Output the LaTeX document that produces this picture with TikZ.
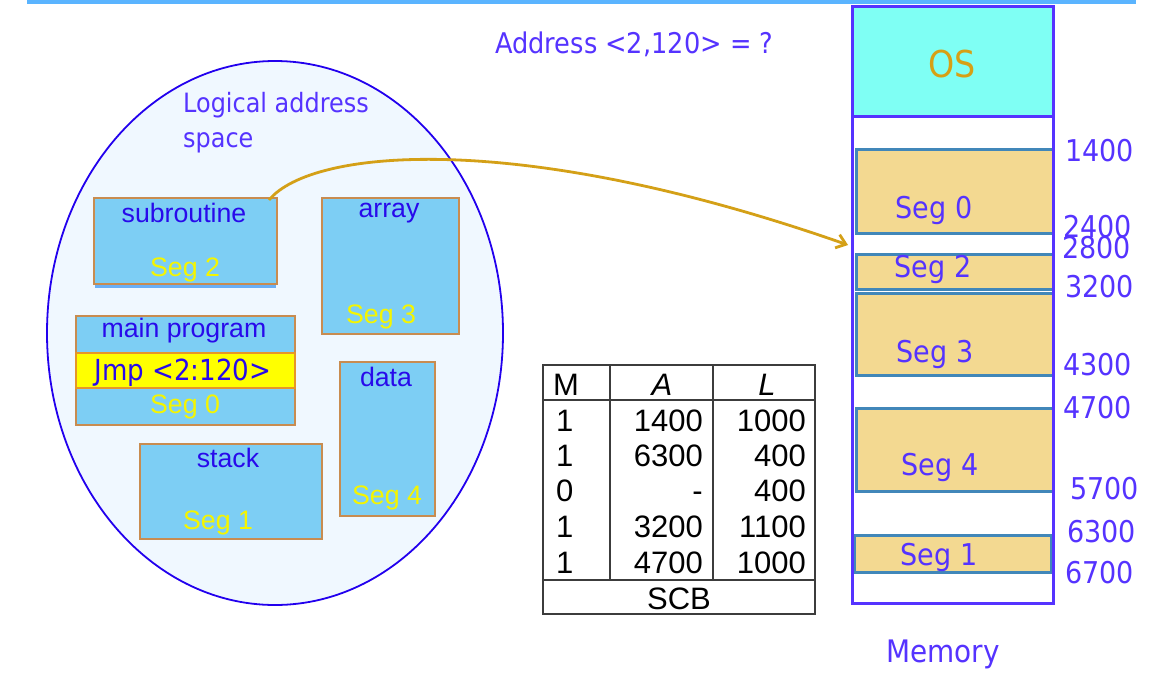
\documentclass[tikz,border=0pt]{standalone}
\usepackage{fontspec}
\setmainfont{Liberation Sans}
\newfontfamily\tah[FakeStretch=0.9]{DejaVu Sans}
\usetikzlibrary{arrows.meta,shapes.geometric}
\definecolor{topbar}{RGB}{90,180,255}
\definecolor{ellfill}{RGB}{240,248,255}
\definecolor{elldraw}{RGB}{34,0,238}
\definecolor{boxfill}{RGB}{125,206,244}
\definecolor{boxdraw}{RGB}{200,140,80}
\definecolor{jmpfill}{RGB}{255,255,0}
\definecolor{jmpdraw}{RGB}{230,150,40}
\definecolor{labblue}{RGB}{40,10,235}
\definecolor{tahblue}{RGB}{85,51,255}
\definecolor{segyel}{RGB}{245,245,0}
\definecolor{osfill}{RGB}{127,255,244}
\definecolor{osorange}{RGB}{215,160,20}
\definecolor{segfill}{RGB}{243,217,145}
\definecolor{segdraw}{RGB}{65,135,185}
\definecolor{arrowc}{RGB}{212,160,23}
\definecolor{tabline}{RGB}{60,60,60}
\tikzset{
  lbox/.style={draw=boxdraw, fill=boxfill, line width=1.5pt, inner sep=0pt, anchor=north west},
  blab/.style={text=labblue, font=\fontsize{26.7}{30}\selectfont, anchor=base, inner sep=0pt},
  ylab/.style={text=segyel, font=\fontsize{26.7}{30}\selectfont, anchor=base, inner sep=0pt},
  tlab/.style={text=tahblue, font=\tah\fontsize{30}{36}\selectfont, anchor=base, inner sep=0pt},
  memseg/.style={draw=segdraw, fill=segfill, line width=3pt, inner sep=0pt, anchor=north west},
  numlab/.style={tlab, anchor=base west},
  tabtxt/.style={font=\fontsize{31}{36}\selectfont, inner sep=0pt},
  tabline/.style={draw=tabline, line width=1.2pt},
}
\begin{document}
\begin{tikzpicture}[x=1pt,y=-1pt]
\useasboundingbox (0,0) rectangle (1162,678);
\fill[white] (0,0) rectangle (1162,678);
% top bar
\fill[topbar] (27,0) rectangle (1136,4);

% logical address space
\node[draw=elldraw, fill=ellfill, line width=1.8pt, ellipse, inner sep=0pt,
      minimum width=456pt, minimum height=544pt] (ell) at (275,333) {};
\node[text=tahblue, font=\tah\fontsize{26.6}{35}\selectfont, anchor=base west, inner sep=0pt] (lastitle) at (183,112) {Logical address};
\node[text=tahblue, font=\tah\fontsize{26.6}{35}\selectfont, anchor=base west, inner sep=0pt] (lastitle2) at (183,147) {space};

% subroutine
\fill[boxfill!85!blue] (95,283) rectangle (276,288);
\node[lbox, minimum width=183pt, minimum height=86pt] (sub) at (93,197) {};
\node[blab] (subt) at (184,222) {subroutine};
\node[ylab] (subs) at (185,276) {Seg 2};

% array
\node[lbox, minimum width=137pt, minimum height=136pt] (arr) at (321,197) {};
\node[blab] (arrt) at (389,217) {array};
\node[ylab] (arrs) at (381,323) {Seg 3};

% main program
\node[lbox, minimum width=219pt, minimum height=109pt] (mainp) at (75,315) {};
\node[draw=jmpdraw, fill=jmpfill, line width=1.5pt, inner sep=0pt, anchor=north west,
      minimum width=219pt, minimum height=35pt] (jmp) at (75,352) {};
\node[blab] (maint) at (184,337) {main program};
\node[tlab, text=labblue, font=\tah\fontsize{29}{34}\selectfont] (jmpt) at (183,380) {Jmp <2:120>};
\node[ylab] (mains) at (185,413) {Seg 0};

% data
\node[lbox, minimum width=95pt, minimum height=154pt] (dat) at (339,361) {};
\node[blab] (datt) at (386,386) {data};
\node[ylab] (dats) at (387,504) {Seg 4};

% stack
\node[lbox, minimum width=182pt, minimum height=95pt] (stk) at (139,443) {};
\node[blab] (stkt) at (228,467) {stack};
\node[ylab] (stks) at (218,529) {Seg 1};

% address question
\node[text=tahblue, font=\tah\fontsize{28.5}{32}\selectfont, anchor=base west, inner sep=0pt] (addr) at (495,53) {Address <2,120> = ?};

% table
\draw[tabline] (543,365) rectangle (815,614);
\draw[tabline] (543,400) -- (815,400);
\draw[tabline] (543,580) -- (815,580);
\draw[tabline] (610,365) -- (610,580);
\draw[tabline] (713,365) -- (713,580);
\node[tabtxt, anchor=base west] (hM) at (553,395) {M};
\node[tabtxt, anchor=base] (hA) at (662,395) {\itshape A};
\node[tabtxt, anchor=base] (hL) at (767,395) {\itshape L};
\foreach \m/\a/\l/\y [count=\i] in {1/1400/1000/431, 1/6300/400/466, 0/-/400/501, 1/3200/1100/537, 1/4700/1000/573}{
  \node[tabtxt, anchor=base west] (m\i) at (556,\y) {\m};
  \node[tabtxt, anchor=base east] (a\i) at (703,\y) {\a};
  \node[tabtxt, anchor=base east] (l\i) at (806,\y) {\l};
}
\node[tabtxt, anchor=base] (scb) at (679,609) {SCB};

% memory
\fill[white] (851,5) rectangle (1053,602);
\node[fill=osfill, inner sep=0pt, anchor=north west, minimum width=202pt, minimum height=111pt] (os) at (851,5) {};
\node[text=osorange, font=\tah\fontsize{37}{40}\selectfont, anchor=base, inner sep=0pt] (ost) at (952,77) {OS};
\node[memseg, minimum width=197pt, minimum height=84pt] (ms0) at (855,148) {};
\node[memseg, minimum width=197pt, minimum height=35pt] (ms2) at (855,253) {};
\node[memseg, minimum width=197pt, minimum height=82pt] (ms3) at (855,292) {};
\node[memseg, minimum width=197pt, minimum height=83pt] (ms4) at (855,407) {};
\node[memseg, minimum width=197pt, minimum height=37pt] (ms1) at (853,534) {};
\draw[tahblue, line width=3pt] (851,116) -- (1052,116);
\node[draw=tahblue, line width=3pt, inner sep=0pt, anchor=north west, minimum width=201pt, minimum height=597pt] (mem) at (851,5) {};
\node[tlab] (ms0t) at (934,218) {Seg 0};
\node[tlab] (ms2t) at (933,277) {Seg 2};
\node[tlab] (ms3t) at (935,362) {Seg 3};
\node[tlab] (ms4t) at (940,475) {Seg 4};
\node[tlab] (ms1t) at (939,565) {Seg 1};
\node[tlab, font=\tah\fontsize{31}{36}\selectfont] (memt) at (943,662) {Memory};

\node[numlab] (n1400) at (1065,161) {1400};
\node[numlab] (n2400) at (1063,237) {2400};
\node[numlab] (n2800) at (1062,258) {2800};
\node[numlab] (n3200) at (1065,297) {3200};
\node[numlab] (n4300) at (1063,375) {4300};
\node[numlab] (n4700) at (1063,418) {4700};
\node[numlab] (n5700) at (1070,499) {5700};
\node[numlab] (n6300) at (1067,542) {6300};
\node[numlab] (n6700) at (1065,583) {6700};

% arrow
\coordinate (arrS) at (269,200);
\coordinate (arrE) at (848,245);
\draw[arrowc, line width=2.8pt, -{Straight Barb[length=9pt,width=14pt]}]
  (arrS) .. controls (312,148) and (520,130) .. (arrE);
\end{tikzpicture}
\end{document}
